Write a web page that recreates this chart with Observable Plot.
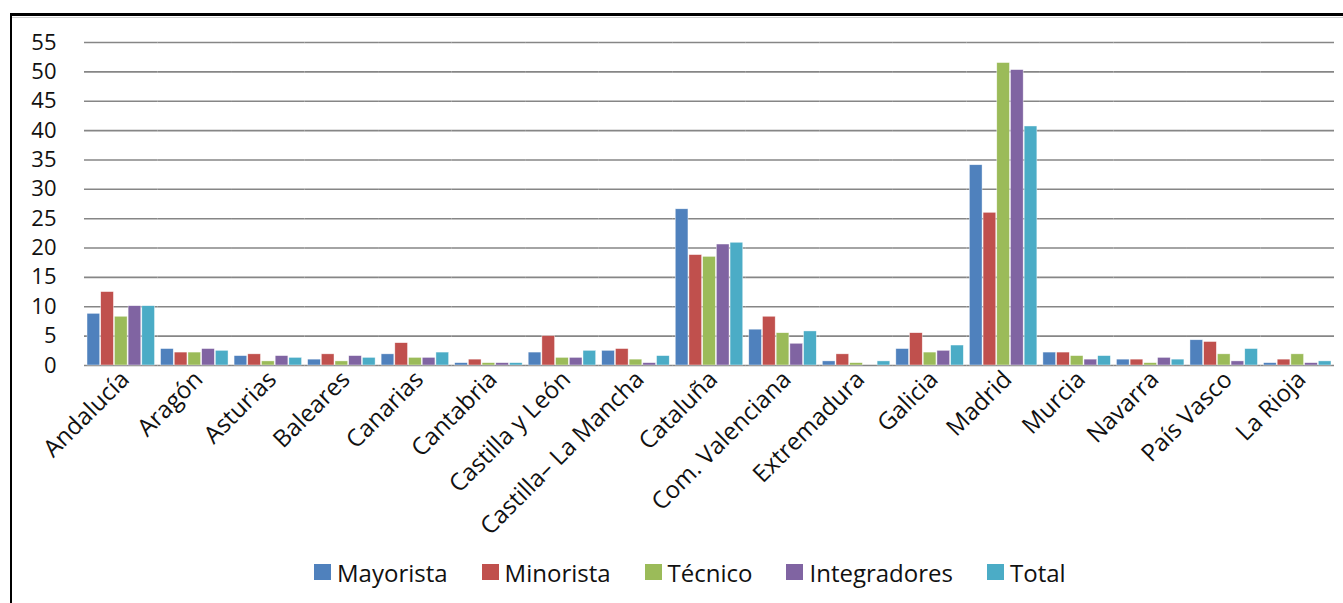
<!DOCTYPE html>
<html>
<head>
<meta charset="utf-8">
<script src="https://cdn.jsdelivr.net/npm/d3@7"></script>
<script src="https://cdn.jsdelivr.net/npm/@observablehq/plot@0.6"></script>
<style>
  html, body { margin: 0; padding: 0; background: #fff; }
  #wrap { position: relative; width: 1343px; height: 603px; overflow: hidden; font-family: "Open Sans", sans-serif; }
  #frame { position: absolute; left: 10px; top: 13px; width: 1400px; height: 700px; border-left: 2px solid #000; border-top: 3px solid #000; }
  #frame2 { position: absolute; left: 12px; top: 17px; width: 1400px; height: 0; border-top: 1px solid #d0d0d0; }
  #chart { position: absolute; left: 0; top: 0; }
  #legend { position: absolute; top: 555px; left: 314px; height: 34px; display: flex; align-items: center; font-size: 24px; color: #111; white-space: nowrap; }
  .item { display: flex; align-items: center; margin-right: 34px; }
  .sw { width: 17px; height: 16px; margin-right: 6px; }
</style>
</head>
<body>
<div id="wrap">
  <div id="frame"></div>
  <div id="frame2"></div>
  <div id="chart"></div>
  <div id="legend"></div>
</div>
<script>
const regions = ["Andalucía","Aragón","Asturias","Baleares","Canarias","Cantabria","Castilla y León","Castilla– La Mancha","Cataluña","Com. Valenciana","Extremadura","Galicia","Madrid","Murcia","Navarra","País Vasco","La Rioja"];
const series = ["Mayorista","Minorista","Técnico","Integradores","Total"];
const colors = ["#4F81BD","#C0504D","#9BBB59","#8064A2","#4BACC6"];
const mayorista    = [8.8, 2.8, 1.6, 1.0, 1.9, 0.4, 2.2, 2.5, 26.6, 6.1, 0.7, 2.8, 34.1, 2.2, 1.0, 4.3, 0.4];
const minorista    = [12.5, 2.2, 1.9, 1.9, 3.8, 1.0, 5.0, 2.8, 18.8, 8.3, 1.9, 5.5, 26.0, 2.2, 1.0, 4.0, 1.0];
const tecnico      = [8.3, 2.2, 0.7, 0.7, 1.3, 0.4, 1.3, 1.0, 18.5, 5.5, 0.4, 2.2, 51.5, 1.6, 0.4, 1.9, 1.9];
const integradores = [10.1, 2.8, 1.6, 1.6, 1.3, 0.4, 1.3, 0.4, 20.6, 3.7, 0, 2.5, 50.3, 1.0, 1.3, 0.7, 0.4];
const total        = [10.1, 2.5, 1.3, 1.3, 2.2, 0.4, 2.5, 1.6, 20.9, 5.8, 0.7, 3.4, 40.7, 1.6, 1.0, 2.8, 0.7];
const yTicks = [0,5,10,15,20,25,30,35,40,45,50,55];

const valuesBySeries = [mayorista, minorista, tecnico, integradores, total];
const data = regions.flatMap((r, i) => series.map((s, j) => ({region: r, series: s, value: valuesBySeries[j][i]})));

const chart = Plot.plot({
  width: 1343,
  height: 545,
  marginLeft: 84,
  marginRight: 9,
  marginTop: 42,
  marginBottom: 180,
  style: {fontFamily: "Open Sans, sans-serif", fontSize: "22px", color: "#111", background: "transparent", overflow: "visible"},
  fx: {domain: regions, padding: 0, round: false, label: null},
  x: {domain: series, axis: null, round: false, paddingInner: 0.073, paddingOuter: 0.22},
  y: {domain: [0, 55], label: null},
  color: {domain: series, range: colors},
  marks: [
    Plot.ruleY(yTicks, {stroke: "#868686", strokeWidth: 1.6}),
    Plot.axisY(yTicks, {tickSize: 0, tickPadding: 28, fontSize: 22, label: null}),
    Plot.axisFx({anchor: "bottom", tickRotate: -45, tickSize: 0, tickPadding: 10, fontSize: 24, label: null, dx: 4}),
    Plot.barY(data, {fx: "region", x: "series", y: "value", fill: "series", stroke: "#ffffff", strokeWidth: 0.6, strokeOpacity: 0.7})
  ]
});
document.getElementById("chart").appendChild(chart);

const legend = document.getElementById("legend");
series.forEach((s, i) => {
  const item = document.createElement("div");
  item.className = "item";
  const sw = document.createElement("div");
  sw.className = "sw";
  sw.style.background = colors[i];
  const t = document.createElement("span");
  t.textContent = s;
  item.appendChild(sw);
  item.appendChild(t);
  legend.appendChild(item);
});
</script>
</body>
</html>
